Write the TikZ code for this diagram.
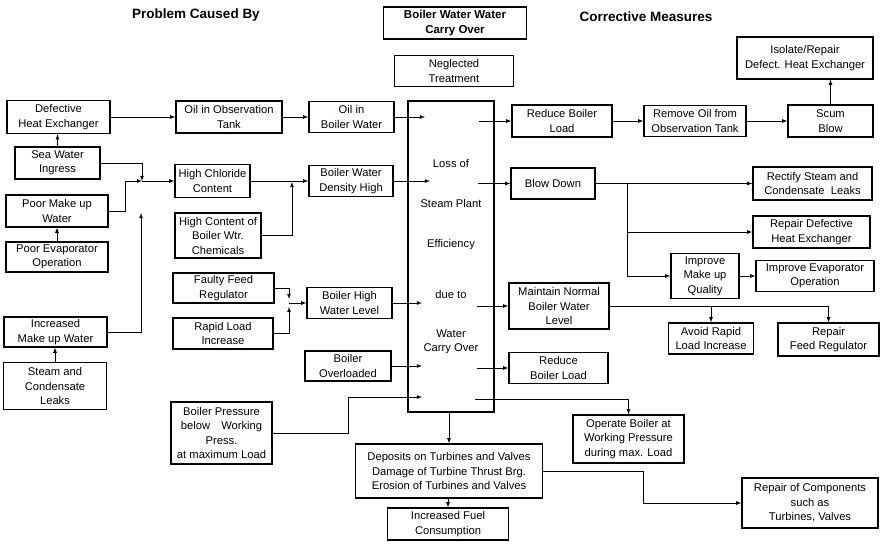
\documentclass[tikz,border=0pt]{standalone}
\usepackage{fontspec}
\setmainfont{Liberation Sans}

\begin{document}
\begin{tikzpicture}
      [x=1pt,y=-1pt,
       every node/.style={draw,line width=1.3pt,align=center,inner sep=1pt,
         font=\fontsize{11.2}{14.5}\selectfont},
       arr/.style={->,>=latex,line width=0.8pt}]
      \useasboundingbox (0,0) rectangle (885,545);

      % headings
      \node [draw=none,font=\fontsize{13.5}{16}\selectfont\bfseries] (hcause) at (196,15) {Problem Caused By};
      \node [draw=none,font=\fontsize{13.5}{16}\selectfont\bfseries] (hmeas) at (646,17) {Corrective Measures};
      \node [minimum width=143,minimum height=32,font=\fontsize{11.5}{14.5}\selectfont\bfseries] (carry) at (455,23) {Boiler Water Water\\Carry Over};
      \node [minimum width=119,minimum height=31] (neglect) at (454,71) {Neglected\\Treatment};

      % causes
      \node [minimum width=103,minimum height=33] (defhx) at (58.5,117) {Defective\\Heat Exchanger};
      \node [minimum width=85,minimum height=32] (sea) at (57.5,163) {Sea Water\\Ingress};
      \node [minimum width=102,minimum height=32] (poormk) at (57,211) {Poor Make up\\Water};
      \node [minimum width=102,minimum height=30] (poorev) at (57,257) {Poor Evaporator\\Operation};
      \node [minimum width=103,minimum height=30] (incmk) at (55.5,332) {Increased\\Make up Water};
      \node [minimum width=103,minimum height=47] (leaks) at (55,386) {Steam and\\Condensate\\Leaks};
      \node [minimum width=106,minimum height=32] (oiltank) at (229,117) {Oil in Observation\\Tank};
      \node [minimum width=75,minimum height=33] (chlor) at (212.5,181) {High Chloride\\Content};
      \node [minimum width=86,minimum height=45] (chem) at (218,235.5) {High Content of\\Boiler Wtr.\\Chemicals};
      \node [minimum width=101,minimum height=30] (faulty) at (223.5,288) {Faulty Feed\\Regulator};
      \node [minimum width=100,minimum height=31] (rapid) at (223,333.5) {Rapid Load\\Increase};
      \node [minimum width=101,minimum height=62] (press) at (221.5,433) {Boiler Pressure\\below\quad Working\\Press.\\at maximum Load};
      \node [minimum width=85,minimum height=31] (oilbw) at (351.5,117) {Oil in\\Boiler Water};
      \node [minimum width=84,minimum height=31] (dens) at (351,181) {Boiler Water\\Density High};
      \node [minimum width=85,minimum height=31] (bhwl) at (349.5,303) {Boiler High\\Water Level};
      \node [minimum width=86,minimum height=30] (overld) at (348,366) {Boiler\\Overloaded};

      % main box
      \node [minimum width=86,minimum height=311] (loss) at (451,256.5)
        {Loss of\\[25.5pt]Steam Plant\\[25.5pt]Efficiency\\[36.5pt]due to\\[24.5pt]Water\\Carry Over};

      % effects
      \node [minimum width=187,minimum height=54] (depos) at (449,471) {Deposits on Turbines and Valves\\Damage of Turbine Thrust Brg.\\Erosion of Turbines and Valves};
      \node [minimum width=121,minimum height=32] (fuel) at (448,524) {Increased Fuel\\Consumption};

      % measures
      \node [minimum width=100,minimum height=32] (redload) at (562,121) {Reduce Boiler\\Load};
      \node [minimum width=102,minimum height=31] (remoil) at (695,121) {Remove Oil from\\Observation Tank};
      \node [minimum width=85,minimum height=32] (scum) at (830.5,121) {Scum\\Blow};
      \node [minimum width=136,minimum height=42] (isolate) at (805,58) {Isolate/Repair\\Defect. Heat Exchanger};
      \node [minimum width=84,minimum height=31] (blow) at (553,183.5) {Blow Down};
      \node [minimum width=119,minimum height=33] (rectify) at (812.5,183.5) {Rectify Steam and\\Condensate\ \ Leaks};
      \node [minimum width=117,minimum height=32] (repdhx) at (811.5,232) {Repair Defective\\Heat Exchanger};
      \node [minimum width=68,minimum height=45] (impmk) at (705,276) {Improve\\Make up\\Quality};
      \node [minimum width=118,minimum height=31] (impev) at (815,276) {Improve Evaporator\\Operation};
      \node [minimum width=100,minimum height=46] (maint) at (559,306) {Maintain Normal\\Boiler Water\\Level};
      \node [minimum width=85,minimum height=31] (avoid) at (711,338.5) {Avoid Rapid\\Load Increase};
      \node [minimum width=101,minimum height=33] (repfeed) at (828.5,339.5) {Repair\\Feed Regulator};
      \node [minimum width=99,minimum height=31] (redload2) at (558.5,368) {Reduce\\Boiler Load};
      \node [minimum width=111,minimum height=48] (operate) at (628.5,439) {Operate Boiler at\\Working Pressure\\during max. Load};
      \node [minimum width=136,minimum height=50] (repcomp) at (810,503) {Repair of Components\\such as\\Turbines, Valves};

      % free ends and junctions
      \coordinate (in1) at (425,117);
      \coordinate (in2) at (430,181);
      \coordinate (in3) at (422,303);
      \coordinate (in4) at (422,366);
      \coordinate (in5) at (422,397);
      \coordinate (out1) at (479,121);
      \coordinate (out2) at (478,183.5);
      \coordinate (out3) at (477,306);
      \coordinate (out4) at (477,368);
      \coordinate (out5) at (475,399);
      \coordinate (jn1) at (142,181);
      \coordinate (jn2) at (141,213);
      \coordinate (jn3) at (292,182);
      \coordinate (jn4) at (289,303);
      \coordinate (jn4a) at (289,299);
      \coordinate (jn4b) at (289,307);
      \coordinate (br1) at (627,183.5);
      \coordinate (br2) at (711,306);

      % left side
      \draw [arr] (sea.north) -- (sea.north |- defhx.south);
      \draw [arr] (poorev) -- (poormk);
      \draw [arr] (leaks.north) -- (leaks.north |- incmk.south);
      \draw [arr] (sea.east) -| (jn1);
      \draw [arr] (poormk.east) -- ++(17,0) |- (jn1);
      \draw [arr] (incmk.east) -| (jn2);
      \draw [arr] (chem.east) -| (jn3);
      \draw [arr] (faulty.east) -| (jn4a);
      \draw [arr] (rapid.east) -| (jn4b);

      \foreach \from/\to in {defhx/oiltank, oiltank/oilbw, jn1/chlor, chlor/dens, jn4/bhwl,
                             oilbw/in1, dens/in2, bhwl/in3, overld/in4}
      \draw [arr] (\from) -- (\to);
      \draw [arr] (press.east) -- ++(76,0) |- (in5);

      % right side
      \foreach \from/\to in {out1/redload, redload/remoil, remoil/scum, out2/blow, blow/rectify,
                             impmk/impev, out3/maint, out4/redload2}
      \draw [arr] (\from) -- (\to);
      \draw [arr] (scum.north) -- (scum.north |- isolate.south);
      \draw [arr] (br1) |- (repdhx.west);
      \draw [arr] (br1) |- (impmk.west);
      \draw [arr] (maint.east) -| (repfeed.north);
      \draw [arr] (br2) -- (avoid.north);
      \draw [arr] (out5) -| (operate.north);

      % below
      \draw [arr] (depos.north |- loss.south) -- (depos.north);
      \draw [arr] (fuel.north |- depos.south) -- (fuel.north);
      \draw [arr] (depos.east) -- ++(100,0) |- (repcomp.west);
    \end{tikzpicture}
\end{document}
